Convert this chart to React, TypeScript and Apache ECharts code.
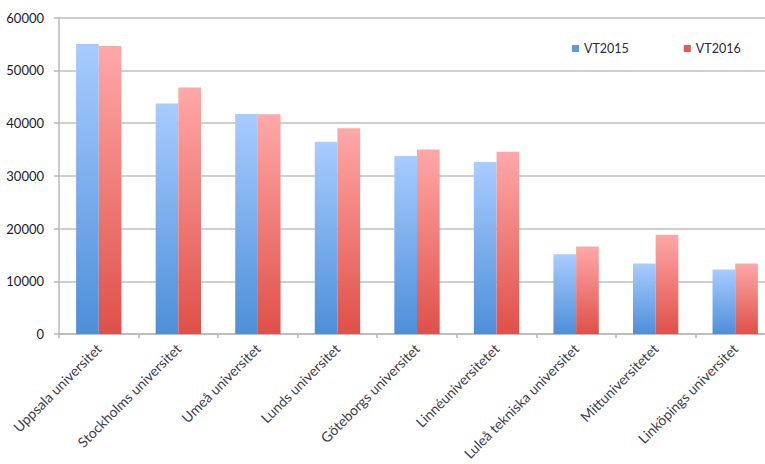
import React, { useEffect, useRef } from "react";
import * as echarts from "echarts";

const categories = [
  "Uppsala universitet",
  "Stockholms universitet",
  "Umeå universitet",
  "Lunds universitet",
  "Göteborgs universitet",
  "Linnéuniversitetet",
  "Luleå tekniska universitet",
  "Mittuniversitetet",
  "Linköpings universitet",
];
const vt2015 = [55000, 43700, 41700, 36450, 33750, 32600, 15100, 13350, 12250];
const vt2016 = [54600, 46750, 41650, 39000, 35000, 34550, 16600, 18800, 13350];
const yTicks = { min: 0, max: 60000, interval: 10000 };

const blueGrad = () =>
  new echarts.graphic.LinearGradient(0, 0, 0, 1, [
    { offset: 0, color: "#a8ccff" },
    { offset: 1, color: "#4d8fd9" },
  ]);
const redGrad = () =>
  new echarts.graphic.LinearGradient(0, 0, 0, 1, [
    { offset: 0, color: "#ffa8a8" },
    { offset: 1, color: "#df5048" },
  ]);

export default function App() {
  const ref = useRef<HTMLDivElement>(null);
  useEffect(() => {
    if (!ref.current) return;
    const chart = echarts.init(ref.current, undefined, { renderer: "svg" });
    const font = "Lato, 'Open Sans', sans-serif";
    chart.setOption({
      animation: false,
      backgroundColor: "#ffffff",
      textStyle: { fontFamily: font },
      grid: { left: 59, right: 0, top: 17.5, bottom: 130, containLabel: false },
      legend: {
        left: 567,
        top: 37,
        itemWidth: 7,
        itemHeight: 7,
        itemGap: 55,
        icon: "rect",
        textStyle: { fontSize: 12.5, color: "#2a2a3a", fontFamily: font },
        data: [
          { name: "VT2015", itemStyle: { color: "#5b9be6" } },
          { name: "VT2016", itemStyle: { color: "#e55a55" } },
        ],
      },
      xAxis: {
        type: "category",
        data: categories,
        axisLine: { show: true, lineStyle: { color: "#b8b8b8", width: 1.5 } },
        axisTick: { show: true, length: 4, lineStyle: { color: "#b8b8b8", width: 1.5 } },
        axisLabel: {
          rotate: 45,
          interval: 0,
          fontSize: 14,
          color: "#3a3a4a",
          margin: 12,
          fontFamily: font,
        },
      },
      yAxis: {
        type: "value",
        min: yTicks.min,
        max: yTicks.max,
        interval: yTicks.interval,
        axisLine: { show: true, lineStyle: { color: "#b8b8b8", width: 1.5 } },
        axisTick: { show: true, length: 5, lineStyle: { color: "#b8b8b8", width: 1.5 } },
        axisLabel: {
          fontSize: 13,
          color: "#1a1a2a",
          margin: 15,
          fontFamily: font,
          formatter: (v: number) => String(v),
        },
        splitLine: { show: true, lineStyle: { color: "#bfbfbf", width: 1.5 } },
      },
      series: [
        {
          name: "VT2015",
          type: "bar",
          data: vt2015,
          barGap: "0%",
          barCategoryGap: "43%",
          itemStyle: { color: blueGrad() },
        },
        {
          name: "VT2016",
          type: "bar",
          data: vt2016,
          itemStyle: { color: redGrad() },
        },
      ],
    });
    return () => chart.dispose();
  }, []);
  return (
    <div style={{ position: "fixed", left: 0, top: 0, width: 765, height: 464, overflow: "hidden" }}>
      <div ref={ref} style={{ width: 775, height: 464 }} />
    </div>
  );
}
